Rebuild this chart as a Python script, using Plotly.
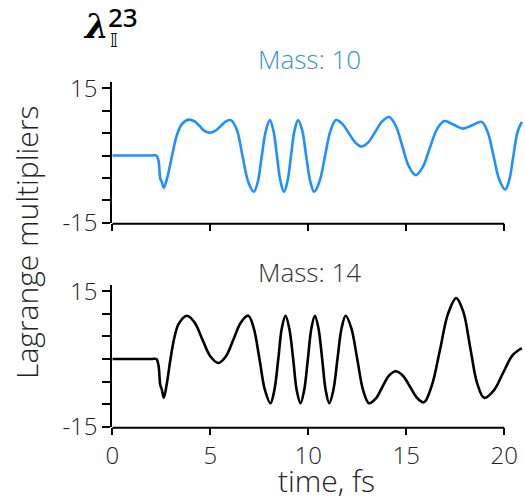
import plotly.graph_objects as go

# ---- data (time in fs, multiplier values) ----
t_m10 = [0, 1.0, 2.0, 2.25, 2.36, 2.45, 2.52, 2.63, 2.8, 3.05, 3.3, 3.55, 3.9, 4.2, 4.45, 4.7,
         4.98, 5.25, 5.52, 5.8, 6.05, 6.35, 6.64, 6.93, 7.22, 7.43, 7.63, 7.84, 8.04, 8.22,
         8.4, 8.58, 8.76, 8.94, 9.12, 9.3, 9.48, 9.69, 9.89, 10.1, 10.3, 10.58, 10.86, 11.14,
         11.42, 11.75, 12.07, 12.4, 12.72, 13.07, 13.42, 13.77, 14.12, 14.46, 14.8, 15.14,
         15.48, 15.84, 16.2, 16.57, 16.95, 17.42, 17.9, 18.37, 18.85, 19.15, 19.45, 19.75,
         20.05, 20.26, 20.47, 20.68, 20.9]
v_m10 = [0, 0, 0, 0, -1.2, -5.2, -5.8, -7.2, -5.0, 0, 4.6, 7.0, 8.0, 7.6, 6.6, 5.5,
         5.1, 5.5, 6.5, 7.6, 7.9, 5.8, 0, -5.8, -8.1, -5.8, 0, 5.6, 7.9, 5.6,
         0, -5.7, -8.1, -5.7, 0, 5.6, 7.9, 5.6, 0, -5.7, -8.1, -5.7, 0, 5.6,
         7.9, 7.0, 4.95, 2.9, 2.0, 3.0, 5.3, 7.6, 8.6, 6.7, 2.1, -2.5,
         -4.4, -2.6, 1.65, 5.9, 7.7, 6.85, 6.0, 6.75, 7.5, 5.3, 0, -5.4,
         -7.6, -5.4, 0, 5.3, 7.5]

t_m14 = [0, 1.0, 2.0, 2.25, 2.36, 2.45, 2.52, 2.63, 2.78, 2.97, 3.18, 3.4, 3.81, 4.2, 4.6,
         5.0, 5.41, 5.8, 6.18, 6.56, 6.94, 7.22, 7.51, 7.79, 8.07, 8.27, 8.47, 8.65, 8.84,
         9.03, 9.23, 9.41, 9.6, 9.79, 9.98, 10.16, 10.34, 10.52, 10.71, 10.89, 11.07, 11.28,
         11.49, 11.7, 11.91, 12.2, 12.5, 12.8, 13.1, 13.44, 13.78, 14.12, 14.46, 14.83,
         15.2, 15.55, 15.9, 16.31, 16.72, 17.13, 17.55, 17.91, 18.27, 18.62, 18.98, 19.46,
         19.94, 20.42, 20.9]
v_m14 = [0, 0, 0, 0, -1.5, -5.8, -6.6, -8.6, -5.5, 0, 5.0, 7.9, 9.6, 8.1, 4.3,
         0.6, -0.9, 0.6, 4.3, 8.1, 9.6, 6.8, 0, -6.9, -9.8, -6.9, 0, 6.8, 9.6,
         6.8, 0, -6.9, -9.8, -6.9, 0, 6.8, 9.6, 6.8, 0, -6.9, -9.8, -6.9,
         0, 6.8, 9.6, 6.8, 0, -6.9, -9.8, -8.8, -6.2, -3.7, -2.7, -3.7,
         -6.2, -8.6, -9.6, -5.8, 2.0, 10.0, 13.5, 10.5, 2.4, -5.4, -8.6, -7.0,
         -3.1, 0.8, 2.4]

x_ticks = [0, 5, 10, 15, 20]
x_ticklabels = ["0", "5", "10", "15", "20"]
y_ticks = [-15, -10, -5, 0, 5, 10, 15]
y_ticklabels = ["-15", "", "", "", "", "", "15"]
panel_titles = ["Mass: 10", "Mass: 14"]

# ---- layout helpers (pixel -> paper) ----
W, H = 525, 504
def px(x):
    return x / W
def py(y):
    return 1 - y / H

FONT = "Open Sans"
x_left = 112.3
top_dom = [py(222.7), py(82.3)]
bot_dom = [py(426.7), py(285.0)]

fig = go.Figure()
fig.add_trace(go.Scatter(x=t_m10, y=v_m10, mode="lines", xaxis="x", yaxis="y",
                         line=dict(color="#1E90FF", width=2.6, shape="spline", smoothing=1.0),
                         showlegend=False, hoverinfo="skip"))
fig.add_trace(go.Scatter(x=t_m14, y=v_m14, mode="lines", xaxis="x2", yaxis="y2",
                         line=dict(color="black", width=2.6, shape="spline", smoothing=1.0),
                         showlegend=False, hoverinfo="skip"))

tickfont = dict(family=FONT, size=24, color="#222", weight=300)
common_x = dict(range=[0, 21.06], domain=[px(x_left), 1], tickvals=x_ticks, ticktext=x_ticklabels,
                ticks="outside", ticklen=7, tickwidth=1.6, tickcolor="black", automargin=False,
                showline=False, showgrid=False, zeroline=False, tickfont=tickfont)
common_y = dict(tickvals=y_ticks, ticktext=y_ticklabels, ticks="outside", ticklen=8,
                tickwidth=1.6, tickcolor="black", showline=True, linewidth=2, linecolor="black",
                showgrid=False, zeroline=False, tickfont=tickfont, automargin=False)

fig.update_layout(
    width=W, height=H,
    margin=dict(l=0, r=0, t=0, b=0, autoexpand=False),
    paper_bgcolor="white", plot_bgcolor="white",
    xaxis=dict(anchor="y", showticklabels=False, **common_x),
    yaxis=dict(anchor="x", domain=top_dom, range=[-15, 16.34], **common_y),
    xaxis2=dict(anchor="y2", showticklabels=True, **common_x),
    yaxis2=dict(anchor="x2", domain=bot_dom, range=[-15, 16.4], **common_y),
)

# x-axis spines ending at t = 20
for xr, ypix in (("x", 223.7), ("x2", 427.7)):
    fig.add_shape(type="line", xref=xr, yref="paper", x0=0, x1=20, y0=py(ypix), y1=py(ypix),
                  line=dict(color="black", width=2))

ann = []
ann.append(dict(text=panel_titles[0], x=px(309.5), y=py(59), xref="paper", yref="paper",
                xanchor="center", yanchor="middle", showarrow=False,
                font=dict(family=FONT, size=26, color="#3890DA", weight=300)))
ann.append(dict(text=panel_titles[1], x=px(309.5), y=py(271.5), xref="paper", yref="paper",
                xanchor="center", yanchor="middle", showarrow=False,
                font=dict(family=FONT, size=26, color="#333", weight=300)))
ann.append(dict(text="time, fs", x=px(326.5), y=py(503), xref="paper", yref="paper",
                xanchor="center", yanchor="bottom", showarrow=False,
                font=dict(family=FONT, size=30, color="#222", weight=300)))
ann.append(dict(text="Lagrange multipliers", x=px(26), y=py(243), xref="paper", yref="paper",
                xanchor="center", yanchor="middle", showarrow=False, textangle=-90,
                font=dict(family=FONT, size=30, color="#222", weight=300)))
# title lambda with stacked sub/superscript
ann.append(dict(text="λ", x=px(95.5), y=py(26), xref="paper", yref="paper",
                xanchor="center", yanchor="middle", showarrow=False,
                font=dict(family="DejaVu Serif", size=34, color="black", style="italic", weight="bold")))
ann.append(dict(text="23", x=px(106), y=py(17), xref="paper", yref="paper",
                xanchor="left", yanchor="middle", showarrow=False,
                font=dict(family="Noto Sans", size=26, color="black", weight=500)))
ann.append(dict(text="𝕀", x=px(107.5), y=py(40), xref="paper", yref="paper",
                xanchor="left", yanchor="middle", showarrow=False,
                font=dict(family="DejaVu Sans", size=20, color="black")))
fig.update_layout(annotations=ann)

fig.write_html("out.html", config={"displayModeBar": False},
               post_script="document.body.style.margin='0px';document.body.style.overflow='hidden';")
